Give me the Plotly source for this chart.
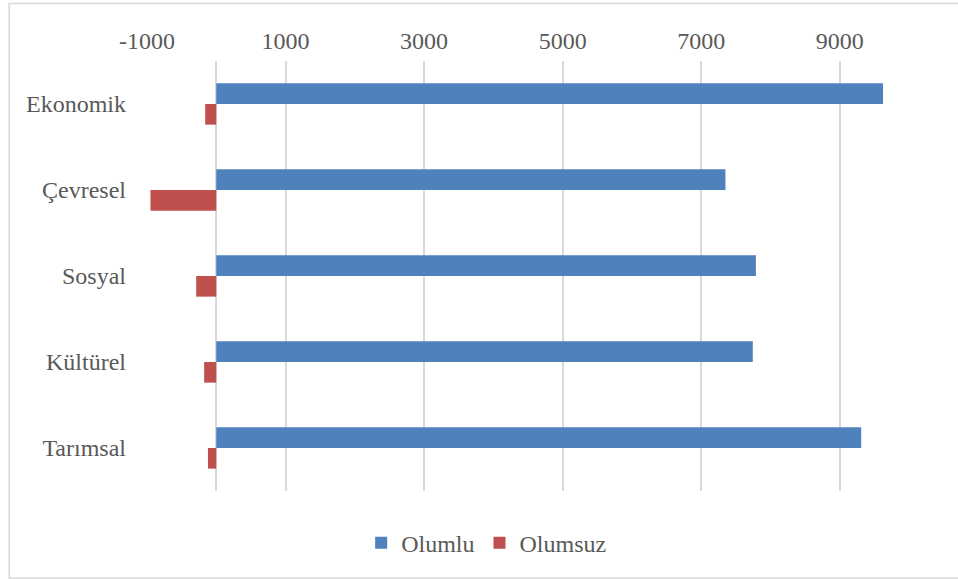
import plotly.graph_objects as go

categories = ["Ekonomik", "Çevresel", "Sosyal", "Kültürel", "Tarımsal"]
olumlu = [9625, 7350, 7790, 7745, 9310]
olumsuz = [-160, -950, -290, -175, -120]
series_names = ["Olumlu", "Olumsuz"]
tick_vals = [-1000, 1000, 3000, 5000, 7000, 9000]

W, H = 958, 579
L, R, T, B = 146.5, 48.5, 61, 88
pw, ph = W - L - R, H - T - B

def px_to_paper_x(px):
    return (px - L) / pw

def px_to_paper_y(py):
    return (H - B - py) / ph

fig = go.Figure()
fig.add_trace(go.Bar(y=categories, x=olumlu, name=series_names[0], orientation="h",
                     marker=dict(color="#4F81BD", line=dict(width=0))))
fig.add_trace(go.Bar(y=categories, x=olumsuz, name=series_names[1], orientation="h",
                     marker=dict(color="#C0504D", line=dict(width=0))))

font_family = "Liberation Serif, Times New Roman, serif"
fig.update_layout(
    width=W, height=H,
    margin=dict(l=L, r=R, t=T, b=B, autoexpand=False),
    paper_bgcolor="white", plot_bgcolor="white",
    barmode="group", bargap=0.52, bargroupgap=0,
    font=dict(family=font_family, size=24, color="#595959"),
    legend=dict(orientation="h", xref="container", yref="container",
                x=0.508, y=0.062, xanchor="center", yanchor="middle",
                font=dict(size=24, color="#595959"), itemwidth=30,
                traceorder="normal"),
    showlegend=True,
)
fig.update_xaxes(
    side="top", range=[-1000, 10000], tickvals=tick_vals,
    ticktext=[str(v) for v in tick_vals],
    showgrid=True, gridcolor="#d9d9d9", gridwidth=1.5,
    zeroline=True, zerolinecolor="#d9d9d9", zerolinewidth=1.5,
    showline=False, ticks="", ticklabelstandoff=6,
    tickfont=dict(size=24, color="#595959"),
)
fig.update_yaxes(
    autorange="reversed", showgrid=False, zeroline=False, showline=False,
    ticks="", ticklabelstandoff=20,
    tickfont=dict(size=24, color="#595959"),
)
fig.add_shape(type="rect", xref="paper", yref="paper",
              x0=px_to_paper_x(8.5), x1=px_to_paper_x(1100),
              y0=px_to_paper_y(578), y1=px_to_paper_y(3.5),
              line=dict(color="#d9d9d9", width=1.5), fillcolor="rgba(0,0,0,0)",
              layer="below")

fig.write_html("out.html", config={"displayModeBar": False})
with open("out.html", "r", encoding="utf-8") as f:
    html = f.read()
html = html.replace("<body>", '<body style="margin:0;padding:0;overflow:hidden">', 1)
with open("out.html", "w", encoding="utf-8") as f:
    f.write(html)
